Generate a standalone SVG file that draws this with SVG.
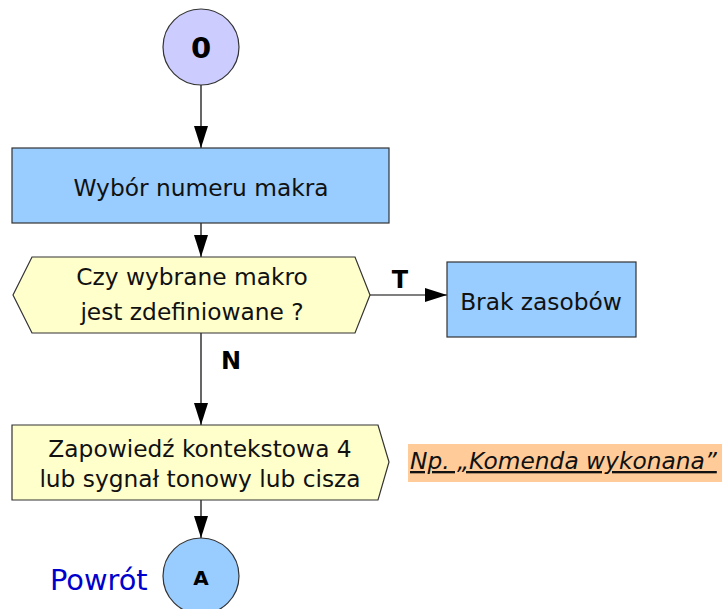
<svg xmlns="http://www.w3.org/2000/svg" width="725" height="609" viewBox="0 0 725 609">
<style>
  .shape { stroke: #333; stroke-width: 1.2; }
  .t { font-family: "DejaVu Sans", sans-serif; font-size: 23.3px; fill: #111; }
  .b { font-family: "DejaVu Sans", sans-serif; font-weight: bold; fill: #000; }
  .conn { stroke: #000; stroke-width: 1.2; fill: none; marker-end: url(#arr); }
</style>
<defs>
  <marker id="arr" markerUnits="userSpaceOnUse" markerWidth="22" markerHeight="14" refX="22" refY="7" orient="auto" viewBox="0 0 22 14">
    <path d="M0,0 L22,7 L0,14 Z" fill="#000"/>
  </marker>
</defs>
<rect width="725" height="609" fill="#fff"/>
<g id="connectors">
  <line class="conn" x1="201" y1="85" x2="201" y2="148"/>
  <line class="conn" x1="201" y1="223" x2="201" y2="257"/>
  <line class="conn" x1="370" y1="295" x2="447" y2="295"/>
  <line class="conn" x1="201" y1="333" x2="201" y2="425"/>
  <line class="conn" x1="201" y1="500" x2="201" y2="538"/>
  <text class="b" x="400" y="288" font-size="24" text-anchor="middle">T</text>
  <text class="b" x="231" y="369" font-size="24" text-anchor="middle">N</text>
</g>
<g id="start">
  <circle class="shape" cx="201" cy="47" r="38" fill="#ccccff"/>
  <text class="b" x="201" y="58" font-size="29" text-anchor="middle">0</text>
</g>
<g id="wybor">
  <rect class="shape" x="12" y="148" width="377" height="75" fill="#99ccff"/>
  <text class="t" x="201" y="196" text-anchor="middle">Wybór numeru makra</text>
</g>
<g id="decision">
  <polygon class="shape" points="13,295 32,257 355,257 370,295 355,333 32,333" fill="#ffffcc"/>
  <text class="t" x="192" y="285" text-anchor="middle">Czy wybrane makro</text>
  <text class="t" x="192" y="320" text-anchor="middle">jest zdefiniowane ?</text>
</g>
<g id="brak">
  <rect class="shape" x="447" y="262" width="189" height="75" fill="#99ccff"/>
  <text class="t" x="541" y="310" text-anchor="middle">Brak zasobów</text>
</g>
<g id="zapowiedz">
  <polygon class="shape" points="12,425 378,425 389,462 378,500 12,500" fill="#ffffcc"/>
  <text class="t" x="200" y="457" text-anchor="middle">Zapowiedź kontekstowa 4</text>
  <text class="t" x="200" y="487" text-anchor="middle">lub sygnał tonowy lub cisza</text>
</g>
<g id="note">
  <rect x="408" y="444" width="314" height="38" fill="#ffcc99"/>
  <text class="t" x="410" y="469" font-size="23.5" font-style="italic" text-decoration="underline">Np. „Komenda wykonana”</text>
</g>
<g id="end">
  <circle class="shape" cx="201" cy="576" r="38" fill="#99ccff"/>
  <text class="b" x="201" y="585" font-size="20" text-anchor="middle">A</text>
  <text x="50" y="590" font-family="DejaVu Sans, sans-serif" font-size="28.8" fill="#0000cc">Powrót</text>
</g>
</svg>
